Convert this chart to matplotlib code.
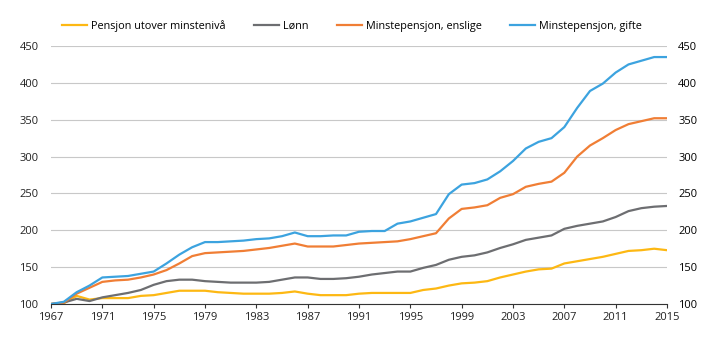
import matplotlib
matplotlib.use("Agg")
import matplotlib.pyplot as plt

years = list(range(1967, 2016))

pensjon = [100, 101, 111, 106, 108, 108, 108, 111, 112, 115, 118, 118, 118, 116, 115, 114, 114, 114, 115, 117,
           114, 112, 112, 112, 114, 115, 115, 115, 115, 119, 121, 125, 128, 129, 131, 136, 140, 144, 147, 148,
           155, 158, 161, 164, 168, 172, 173, 175, 173]
lonn = [100, 102, 107, 104, 109, 112, 115, 119, 126, 131, 133, 133, 131, 130, 129, 129, 129, 130, 133, 136,
        136, 134, 134, 135, 137, 140, 142, 144, 144, 149, 153, 160, 164, 166, 170, 176, 181, 187, 190, 193,
        202, 206, 209, 212, 218, 226, 230, 232, 233]
enslige = [100, 102, 114, 122, 130, 132, 133, 136, 140, 146, 155, 165, 169, 170, 171, 172, 174, 176, 179, 182,
           178, 178, 178, 180, 182, 183, 184, 185, 188, 192, 196, 216, 229, 231, 234, 244, 249, 259, 263, 266,
           278, 300, 315, 325, 336, 344, 348, 352, 352]
gifte = [100, 103, 116, 125, 136, 137, 138, 141, 144, 155, 167, 177, 184, 184, 185, 186, 188, 189, 192, 197,
         192, 192, 193, 193, 198, 199, 199, 209, 212, 217, 222, 249, 262, 264, 269, 280, 294, 311, 320, 325,
         340, 366, 389, 399, 414, 425, 430, 435, 435]

labels = ["Pensjon utover minstenivå", "Lønn", "Minstepensjon, enslige", "Minstepensjon, gifte"]
colors = ["#FDB813", "#6D6E71", "#F07E35", "#3CA3DF"]
xticks = list(range(1967, 2016, 4))
yticks = [100, 150, 200, 250, 300, 350, 400, 450]

plt.rcParams['font.family'] = ['Open Sans', 'DejaVu Sans']
fig = plt.figure(figsize=(7.19, 3.41), dpi=100)
ax = fig.add_axes([51/719, 37/341, 616/719, 258/341])

for s, lab, c in zip([pensjon, lonn, enslige, gifte], labels, colors):
    ax.plot(years, s, color=c, lw=1.6, label=lab, solid_joinstyle='round')

ax.set_xlim(1967, 2015)
ax.set_ylim(100, 450)
ax.set_xticks(xticks)
ax.set_yticks(yticks)
ax.grid(axis='y', color='#C8C8C8', lw=0.8)
ax.set_axisbelow(True)
for sp in ['top', 'left', 'right']:
    ax.spines[sp].set_visible(False)
ax.spines['bottom'].set_color('#333333')
ax.spines['bottom'].set_linewidth(0.8)
ax.tick_params(axis='x', length=3, width=0.8, color='#333333', labelsize=8, pad=3)
ax.tick_params(axis='y', length=0, labelsize=8, pad=9)
for t in ax.get_xticklabels() + ax.get_yticklabels():
    t.set_color('#222222')

ax2 = ax.secondary_yaxis('right')
ax2.set_yticks(yticks)
ax2.tick_params(length=0, labelsize=8, pad=8)
ax2.spines['right'].set_visible(False)

fig.legend(loc='center left', bbox_to_anchor=(52/719, 1 - 26/341), ncol=4, frameon=False,
           fontsize=7.8, handlelength=2.3, handletextpad=0.4, columnspacing=2.6)

fig.savefig("out.png", dpi=100)
